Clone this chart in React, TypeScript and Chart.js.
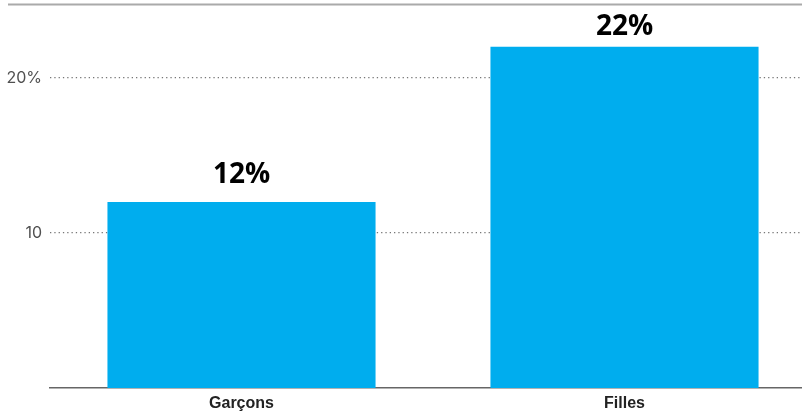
import React, { useEffect, useRef } from "react";
import { Chart, registerables } from "chart.js";

Chart.register(...registerables);

const categories = ["Garçons", "Filles"];
const values = [12, 22];
const yTickValues = [10, 20];
const yTickLabels = ["10", "20%"];

export default function App() {
  const ref = useRef<HTMLCanvasElement | null>(null);

  useEffect(() => {
    const canvas = ref.current;
    if (!canvas) return;

    const topLine = {
      id: "topLine",
      afterDraw(chart: any) {
        const { ctx, chartArea } = chart;
        ctx.save();
        ctx.strokeStyle = "#aaaaaa";
        ctx.lineWidth = 2;
        ctx.beginPath();
        ctx.moveTo(8, chartArea.top - 0.5);
        ctx.lineTo(chart.width, chartArea.top - 0.5);
        ctx.stroke();
        ctx.restore();
      },
    };

    const valueLabels = {
      id: "valueLabels",
      afterDatasetsDraw(chart: any) {
        const { ctx, chartArea } = chart;
        const meta = chart.getDatasetMeta(0);
        ctx.save();
        ctx.fillStyle = "#000000";
        ctx.font = "bold 28px 'Open Sans'";
        ctx.textAlign = "center";
        ctx.textBaseline = "alphabetic";
        meta.data.forEach((bar: any, i: number) => {
          const y = Math.max(bar.y - 18.5, chartArea.top + 30);
          ctx.fillText(values[i] + "%", bar.x, y);
        });
        ctx.restore();
      },
    };

    const chart = new Chart(canvas, {
      type: "bar",
      data: {
        labels: categories,
        datasets: [
          {
            data: values,
            backgroundColor: "#00ADEE",
            borderWidth: 0,
            barPercentage: 0.7,
            categoryPercentage: 1,
          },
        ],
      },
      options: {
        responsive: false,
        animation: false,
        layout: { padding: { top: 5, left: 0, right: 0, bottom: 0 } },
        plugins: {
          legend: { display: false },
          tooltip: { enabled: false },
        },
        scales: {
          x: {
            grid: { display: false, drawTicks: false },
            border: { display: true, color: "#666666", width: 1.5 },
            ticks: {
              color: "#222222",
              font: { family: "Liberation Sans", weight: "bold", size: 16 },
              padding: 6,
            },
            afterFit(scale: any) {
              scale.height = 23;
              scale.paddingLeft = 0;
              scale.paddingRight = 0;
            },
          },
          y: {
            min: 0,
            max: 24.7,
            afterBuildTicks(scale: any) {
              scale.ticks = yTickValues.map((v) => ({ value: v }));
            },
            afterFit(scale: any) {
              scale.width = 50;
              scale.paddingTop = 0;
              scale.paddingBottom = 0;
            },
            grid: {
              color: "#777777",
              lineWidth: 1.2,
              drawTicks: false,
            },
            border: { display: false, dash: [1.3, 3] },
            ticks: {
              color: "#505050",
              font: { family: "Inter", size: 16 },
              padding: 8,
              callback(v: any) {
                const i = yTickValues.indexOf(Number(v));
                return i >= 0 ? yTickLabels[i] : "";
              },
            },
          },
        },
      },
      plugins: [topLine, valueLabels],
    });

    return () => chart.destroy();
  }, []);

  return (
    <div
      style={{
        position: "fixed",
        left: 0,
        top: 0,
        width: 802,
        height: 411,
        overflow: "hidden",
        background: "#ffffff",
      }}
    >
      <canvas ref={ref} width={816} height={411} style={{ display: "block" }} />
    </div>
  );
}
